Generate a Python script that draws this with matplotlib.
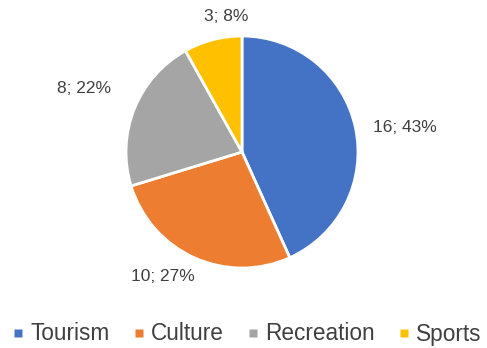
import numpy as np
import matplotlib
matplotlib.use("Agg")
import matplotlib.pyplot as plt
from matplotlib.lines import Line2D

categories = ["Tourism", "Culture", "Recreation", "Sports"]
values = [16, 10, 8, 3]
colors = ["#4472C4", "#ED7D31", "#A5A5A5", "#FFC000"]

plt.rcParams['font.family'] = ['Liberation Sans', 'DejaVu Sans']
text_color = "#404040"

W, H = 487, 348
fig = plt.figure(figsize=(W / 100, H / 100), dpi=100)
ax = fig.add_axes([0, 0, 1, 1])

cx, cy, r = 242, 196, 116
wedges, _ = ax.pie(values, colors=colors, startangle=90, counterclock=False,
                   center=(cx, cy), radius=r, frame=True,
                   wedgeprops=dict(edgecolor="white", linewidth=2))
ax.set_xlim(0, W)
ax.set_ylim(0, H)
ax.set_aspect('equal')
ax.axis('off')

total = sum(values)
dists = [1.42, 1.27, 1.47, 1.18]
angle_adj = [-3.5, -8, 0, -8]
for w, v, d, da in zip(wedges, values, dists, angle_adj):
    mid = np.deg2rad((w.theta1 + w.theta2) / 2 + da)
    x = cx + d * r * np.cos(mid)
    y = cy + d * r * np.sin(mid)
    ax.text(x, y, f"{v}; {round(100 * v / total)}%", ha="center", va="center",
            fontsize=12.5, color=text_color)

handles = [Line2D([], [], linestyle="none", marker="s", markersize=5.2,
                  markerfacecolor=c, markeredgecolor="none") for c in colors]
leg = fig.legend(handles, categories, loc="center", bbox_to_anchor=(0.506, 1 - 334 / H),
                 ncol=4, frameon=False, fontsize=16.3, handlelength=0.6,
                 handletextpad=0.25, columnspacing=0.97, borderpad=0,
                 labelcolor=text_color)

fig.savefig("out.png", dpi=100)
